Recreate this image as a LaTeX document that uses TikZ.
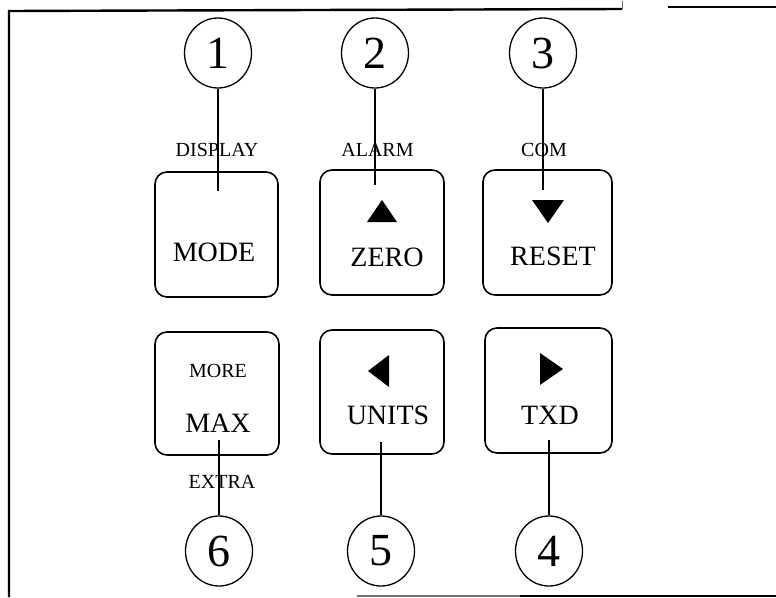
\documentclass[tikz,border=0pt]{standalone}
\usepackage{fontspec}
\setmainfont{Liberation Serif}
\usetikzlibrary{shapes.geometric}
\begin{document}
\begin{tikzpicture}[x=1pt,y=-1pt,
  keybox/.style={draw,line width=1.6pt,rounded corners=12pt,inner sep=0pt},
  numcirc/.style={draw,ellipse,line width=1.3pt,minimum width=67pt,minimum height=70pt,inner sep=0pt,font=\fontsize{46}{48}\selectfont},
  keylabel/.style={inner sep=0pt,font=\fontsize{28}{30}\selectfont},
  sublabel/.style={inner sep=0pt,font=\fontsize{20}{22}\selectfont},
  lead/.style={line width=1.3pt},
  frame/.style={line width=2.4pt},
  tri/.style={fill=black}]
\useasboundingbox (0,0) rectangle (776,597);
% frame
\draw[frame] (9,597) -- (9,11) -- (622,9);
\draw[line width=0.8pt,black!60] (622,1) -- (622,9);
\draw[frame] (668,7) -- (776,7);
\draw[line width=1.6pt,black!55] (357,596) -- (520,596);
\draw[frame] (520,596) -- (776,596);
% key boxes
\node[keybox,minimum width=123pt,minimum height=125pt] (bMode)  at (216.5,234.5) {};
\node[keybox,minimum width=124pt,minimum height=125pt] (bZero)  at (382,232.5) {};
\node[keybox,minimum width=129pt,minimum height=125pt] (bReset) at (547.5,232.5) {};
\node[keybox,minimum width=124pt,minimum height=123pt] (bMax)   at (217,393.5) {};
\node[keybox,minimum width=124pt,minimum height=124pt] (bUnits) at (382,392) {};
\node[keybox,minimum width=127pt,minimum height=125pt] (bTxd)   at (548.5,390.5) {};
% key labels
\node[keylabel] (tMode)  at (214,252) {MODE};
\node[keylabel] (tZero)  at (387,257) {ZERO};
\node[keylabel] (tReset) at (553,256) {RESET};
\node[keylabel] (tMax)   at (218,423) {MAX};
\node[keylabel] (tUnits) at (388,415) {UNITS};
\node[keylabel] (tTxd)   at (550,415) {TXD};
% secondary labels
\node[sublabel] (sDisplay) at (217,150) {DISPLAY};
\node[sublabel] (sAlarm)   at (377.5,150) {ALARM};
\node[sublabel] (sCom)     at (544,150) {COM};
\node[sublabel] (sMore)    at (218,371) {MORE};
\node[sublabel] (sExtra)   at (222,482) {EXTRA};
% arrow symbols
\path[tri] (367,222) -- (382,200) -- (397,222) -- cycle;
\path[tri] (532,200) -- (564,200) -- (548,223) -- cycle;
\path[tri] (368,371) -- (389,355) -- (389,387) -- cycle;
\path[tri] (540,353) -- (563,369) -- (540,385) -- cycle;
% number circles
\node[numcirc] (c1) at (218,53) {1};
\node[numcirc] (c2) at (375,53) {2};
\node[numcirc] (c3) at (543,53) {3};
\node[numcirc] (c6) at (219,551) {6};
\node[numcirc] (c5) at (381,551) {5};
\node[numcirc] (c4) at (549,551) {4};
% leader ends
\coordinate (e1) at (218,191);
\coordinate (e2) at (375,185);
\coordinate (e3) at (543,190);
\coordinate (e6) at (219,440);
\coordinate (e5) at (381,442);
\coordinate (e4) at (549,440);
\draw[lead] (c1) -- (e1);
\draw[lead] (c2) -- (e2);
\draw[lead] (c3) -- (e3);
\draw[lead] (c6) -- (e6);
\draw[lead] (c5) -- (e5);
\draw[lead] (c4) -- (e4);
\end{tikzpicture}
\end{document}
